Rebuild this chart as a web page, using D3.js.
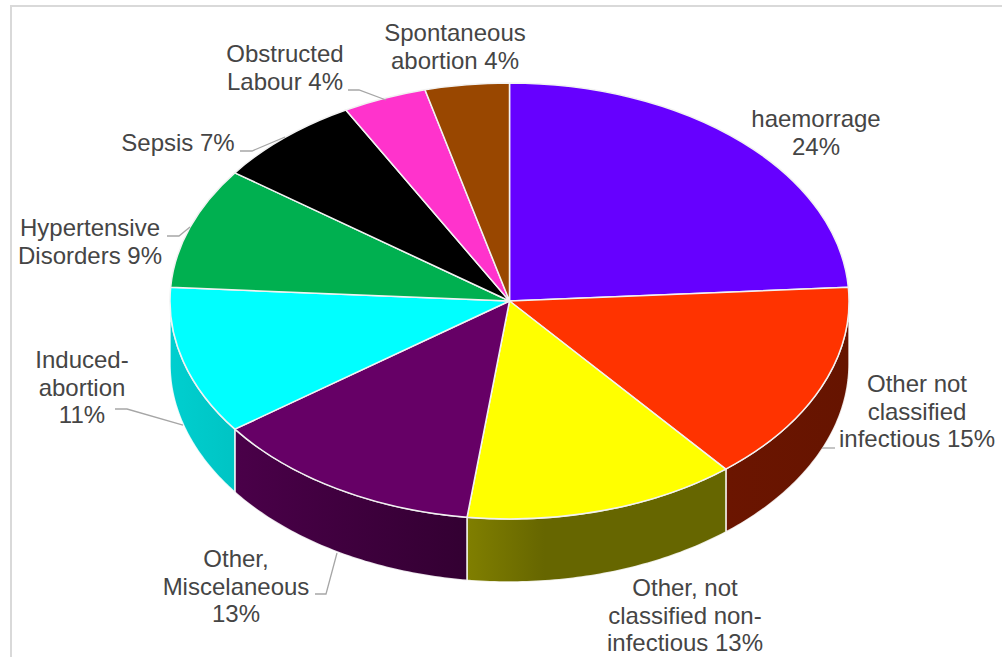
<!DOCTYPE html>
<html>
<head>
<meta charset="utf-8">
<script src="https://cdnjs.cloudflare.com/ajax/libs/d3/7.8.5/d3.min.js"></script>
<style>
html,body{margin:0;padding:0;background:#fff;overflow:hidden}
svg{display:block}
text{font-family:"Liberation Sans",Arial,sans-serif;font-size:24px;fill:#454545;text-anchor:middle}
</style>
</head>
<body>
<svg id="chart" width="1002" height="657"></svg>
<script>
const categories = ["haemorrage","Other not classified infectious","Other, not classified non-infectious","Other, Miscelaneous","Induced-abortion","Hypertensive Disorders","Sepsis","Obstructed Labour","Spontaneous abortion"];
const values = [24,15,13,13,11,9,7,4,4];
const topColors = ["#6600ff","#ff3300","#ffff00","#660066","#00ffff","#00b050","#000000","#ff33cc","#994700"];
const wallLeft  = ["#520000","#6b1500","#807f00","#4a0049","#00cfcf","#008c40","#000000","#cc29a3","#7a3900"];
const wallRight = ["#520000","#661400","#666600","#330032","#00c4c4","#008c40","#000000","#cc29a3","#7a3900"];
const wallFade  = [1,1,0.3,1,1,1,1,1,1];
const labelLines = [
  ["haemorrage","24%"],
  ["Other not","classified","infectious 15%"],
  ["Other, not","classified non-","infectious 13%"],
  ["Other,","Miscelaneous","13%"],
  ["Induced-","abortion","11%"],
  ["Hypertensive","Disorders 9%"],
  ["Sepsis 7%"],
  ["Obstructed","Labour 4%"],
  ["Spontaneous","abortion 4%"]
];

// layout (not data)
const cx = 509.5, cy = 301, rx = 339.5, ry = 218, depth = 63;
const labelX = [816,917,685,236,82,90,178,285,455];
const labelY = [127,392,596,567,368,236,151,62,41];
const lineGap = 27.6;
const leaders = [
  null,
  [[822,448],[835,448]],
  null,
  [[315,594],[326,594],[337,553]],
  [[115,409],[127,409],[183,425]],
  [[167,236],[179,236],[190,227]],
  [[240,151],[252,151],[285,137]],
  [[348,90],[359,90],[386,100]],
  null
];

const svg = d3.select("#chart");
const x = d3.scaleLinear().domain([-1,1]).range([cx-rx,cx+rx]);
const y = d3.scaleLinear().domain([-1,1]).range([cy-ry,cy+ry]);

svg.append("rect").attr("x",11).attr("y",6).attr("width",1010).attr("height",700)
  .attr("fill","#fff").attr("stroke","#d9d9d9").attr("stroke-width",2);

const arcs = d3.pie().value(d=>d).sort(null)(values);
const defs = svg.append("defs");

// front walls: the part of each slice's rim that faces the viewer
const frontStart = Math.PI/2, frontEnd = 3*Math.PI/2;
const wallArea = d3.area()
  .x(t=>x(Math.sin(t)))
  .y0(t=>y(-Math.cos(t)))
  .y1(t=>y(-Math.cos(t))+depth);

const walls = arcs.map((a,i)=>({
  i,
  a0: Math.max(a.startAngle,frontStart),
  a1: Math.min(a.endAngle,frontEnd)
})).filter(w=>w.a1>w.a0);

walls.forEach(w=>{
  const xs = [x(Math.sin(w.a0)), x(Math.sin(w.a1))];
  const g = defs.append("linearGradient").attr("id","wall"+w.i)
    .attr("gradientUnits","userSpaceOnUse")
    .attr("x1",d3.min(xs)).attr("x2",d3.max(xs)).attr("y1",0).attr("y2",0);
  g.append("stop").attr("offset",0).attr("stop-color",wallLeft[w.i]);
  g.append("stop").attr("offset",wallFade[w.i]).attr("stop-color",wallRight[w.i]);
});

svg.append("g").selectAll("path").data(walls).join("path")
  .attr("d",w=>{
    const n = 60;
    return wallArea(d3.range(n+1).map(k=>w.a0+(w.a1-w.a0)*k/n));
  })
  .attr("fill",w=>`url(#wall${w.i})`)
  .attr("stroke","#ffffff").attr("stroke-opacity",0.85).attr("stroke-width",1.5);

// top faces
const arc = d3.arc().innerRadius(0).outerRadius(1);
svg.append("g").attr("transform",`translate(${cx},${cy}) scale(${rx},${ry})`)
  .selectAll("path").data(arcs).join("path")
  .attr("d",arc)
  .attr("fill",(d,i)=>topColors[i])
  .attr("stroke","#f2f2f2").attr("stroke-width",1.5)
  .attr("stroke-linejoin","round")
  .attr("vector-effect","non-scaling-stroke");

// leader lines
svg.append("g").selectAll("path").data(leaders.filter(Boolean)).join("path")
  .attr("d",d3.line()).attr("fill","none")
  .attr("stroke","#a6a6a6").attr("stroke-width",1.3);

// labels
const lab = svg.append("g").selectAll("text").data(labelLines).join("text");
lab.selectAll("tspan").data((d,i)=>d.map((s,k)=>({s,k,i}))).join("tspan")
  .attr("x",d=>labelX[d.i]).attr("y",d=>labelY[d.i]+d.k*lineGap)
  .text(d=>d.s);
</script>
</body>
</html>
